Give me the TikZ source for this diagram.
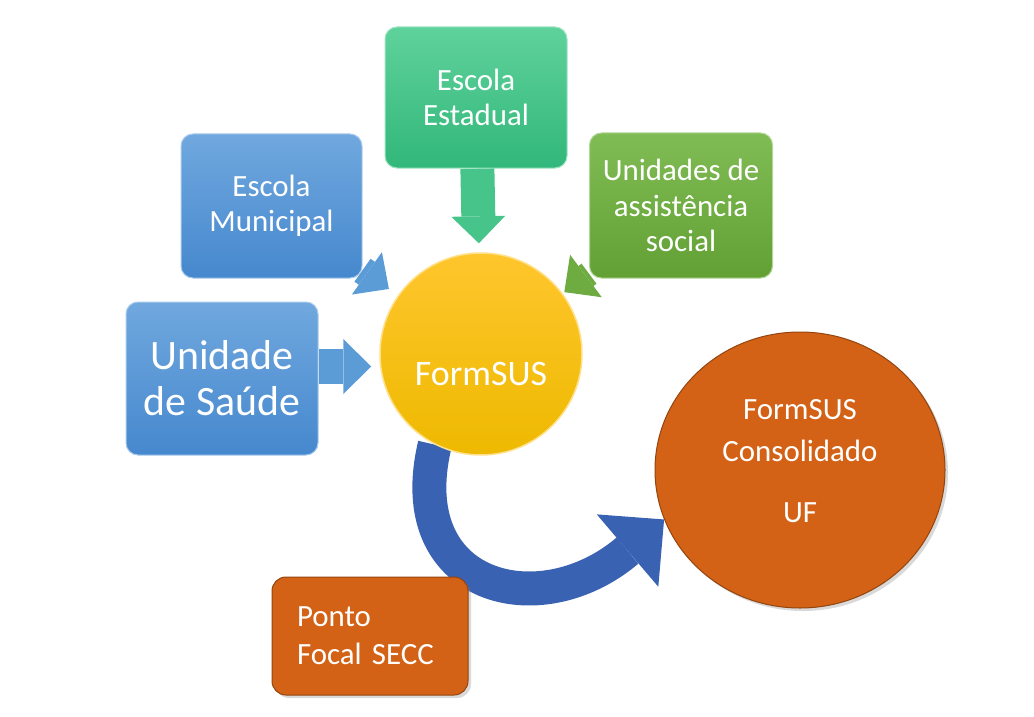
\documentclass[tikz,border=0pt]{standalone}
\usepackage{fontspec}
\setmainfont{Carlito}
\usepackage{tikz}
\usetikzlibrary{arrows.meta}
\usetikzlibrary{backgrounds,shapes,shadows}
\definecolor{skyTop}{RGB}{112,168,222}
\definecolor{skyBot}{RGB}{70,136,206}
\definecolor{mintTop}{RGB}{95,210,155}
\definecolor{mintBot}{RGB}{50,183,122}
\definecolor{leafTop}{RGB}{128,188,84}
\definecolor{leafBot}{RGB}{98,160,52}
\definecolor{sunTop}{RGB}{255,198,45}
\definecolor{sunBot}{RGB}{238,185,0}
\definecolor{rust}{RGB}{211,98,22}
\definecolor{navy}{RGB}{58,98,178}
\definecolor{skyArrow}{RGB}{92,156,214}
\definecolor{mintArrow}{RGB}{70,196,138}
\definecolor{leafArrow}{RGB}{110,172,66}
\newcommand{\midtext}{\fontsize{31}{35}\selectfont}
\tikzstyle{blockarrow}=[line width=30bp, -{Triangle[length=27bp,width=54bp,line width=0pt]}]
\tikzset{
    card/.style 2 args={rectangle, rounded corners=12bp, top color=#1, bottom color=#2,
        draw=#1!60!white, line width=1bp, text=white, align=center, inner sep=0pt},
    hub/.style={circle, top color=sunTop, bottom color=sunBot, draw=sunTop!55!white,
        line width=1.5bp, minimum size=202bp, text=white, inner sep=0pt},
    rustshape/.style={fill=rust, draw=rust!70!black, line width=1bp, text=white,
        drop shadow={shadow xshift=3bp, shadow yshift=-3bp, opacity=0.3}}
}

\begin{document}
\begin{tikzpicture}[x=1bp, y=1bp]
  \useasboundingbox (0,0) rectangle (1034,-717);

  % sources
  \node[card={skyTop}{skyBot}, minimum width=181bp, minimum height=144bp, font=\midtext] (mun) at (271.5,-206) {Escola\\Municipal};
  \node[card={skyTop}{skyBot}, minimum width=192bp, minimum height=153bp, font=\fontsize{42}{46}\selectfont] (sau) at (222,-378.5) {Unidade\\de Saúde};
  \node[card={mintTop}{mintBot}, minimum width=182bp, minimum height=141bp, font=\midtext] (est) at (476,-97.5) {Escola\\Estadual};
  \node[card={leafTop}{leafBot}, minimum width=183bp, minimum height=145bp, font=\fontsize{31}{36}\selectfont] (ass) at (681,-205.5) {Unidades de\\assistência\\social};

  % hub and targets
  \node[hub, font=\fontsize{36}{40}\selectfont, text height=62bp, text depth=0pt] (form) at (481,-354) {FormSUS};
  \node[rustshape, ellipse, minimum width=290bp, minimum height=276bp, inner sep=0pt, align=center,
        text depth=18bp, font=\fontsize{31}{42}\selectfont] (uf) at (800,-470) {FormSUS\\Consolidado\\[19bp]UF};
  \node[rustshape, rectangle, rounded corners=14bp, inner xsep=25bp, inner ysep=0pt, text width=146bp,
        minimum height=118bp, align=left, font=\fontsize{31}{38}\selectfont] (pon) at (370,-636) {Ponto\\Focal SECC};

  \begin{scope}[on background layer]
    \draw[blockarrow, draw=skyArrow, line width=28bp, -{Triangle[length=27bp,width=52bp,line width=0pt]}, shorten >=11bp] (mun) -- (form);
    \draw[blockarrow, draw=skyArrow, line width=35bp, -{Triangle[length=28bp,width=55bp,line width=0pt]}, shorten >=8bp]
        ([yshift=12bp]sau.east) -- ([yshift=12bp]sau.east -| form.west);
    \draw[blockarrow, draw=mintArrow, line width=34bp, shorten >=9bp] (est) -- (form);
    \draw[blockarrow, draw=leafArrow, line width=25bp, -{Triangle[length=27bp,width=53bp,line width=0pt]}, shorten >=2bp] (ass) -- (form);
    % curved transfer
    \draw[navy, line width=34bp, -{Triangle[length=48bp,width=95bp,line width=0pt]}]
        (form.243) .. controls (400,-590) and (540,-625) .. (uf.200);
  \end{scope}
\end{tikzpicture}
\end{document}
